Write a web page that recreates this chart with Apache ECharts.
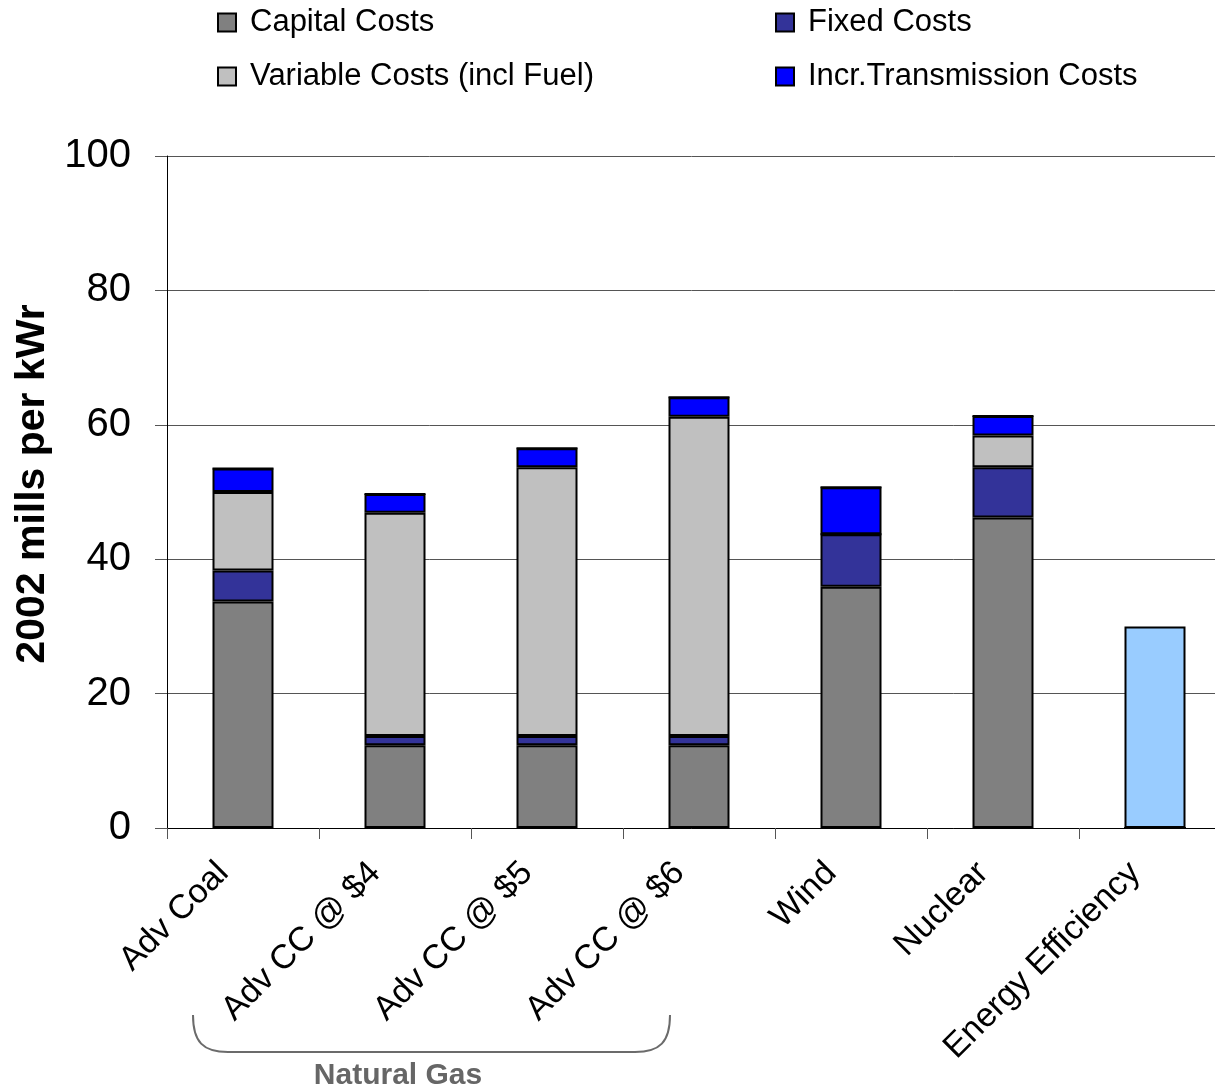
<!DOCTYPE html>
<html>
<head>
<meta charset="utf-8">
<script src="https://cdn.jsdelivr.net/npm/echarts@6/dist/echarts.min.js"></script>
<style>
html,body{margin:0;padding:0;background:#fff;}
#chart{width:1215px;height:1092px;}
</style>
</head>
<body>
<div id="chart"></div>
<script>
var categories = ['Adv Coal', 'Adv CC @ $4', 'Adv CC @ $5', 'Adv CC @ $6', 'Wind', 'Nuclear', 'Energy Efficiency'];
var capitalCosts = [33.7, 12.3, 12.3, 12.3, 35.9, 46.2, 0];
var fixedCosts = [4.6, 1.4, 1.4, 1.4, 7.8, 7.5, 0];
var variableCosts = [11.7, 33.2, 40.0, 47.5, 0, 4.7, 0];
var transmissionCosts = [3.5, 2.8, 2.8, 2.9, 7.0, 2.9, 0];
var efficiencyCosts = [0, 0, 0, 0, 0, 0, 30.0];
var yTicks = [0, 20, 40, 60, 80, 100];

var FONT = 'Liberation Sans, Arial, sans-serif';
var chart = echarts.init(document.getElementById('chart'));

function seg(name, data, color) {
  return {
    name: name, type: 'bar', stack: 'total', data: data,
    barWidth: 61,
    itemStyle: { color: color, borderColor: '#000', borderWidth: 2 },
    emphasis: { disabled: true }
  };
}

var braceStyle = { fill: null, stroke: '#6b6b6b', lineWidth: 2 };

chart.setOption({
  animation: false,
  backgroundColor: '#fff',
  legend: [{
    left: 217, top: 7, orient: 'vertical', padding: 0,
    itemWidth: 18, itemHeight: 18, itemGap: 23, icon: 'rect',
    data: ['Capital Costs', 'Variable Costs (incl Fuel)'],
    textStyle: { fontFamily: FONT, fontSize: 31, color: '#000', lineHeight: 30, padding: [0, 0, 0, 9] }
  }, {
    left: 775, top: 7, orient: 'vertical', padding: 0,
    itemWidth: 18, itemHeight: 18, itemGap: 23, icon: 'rect',
    data: ['Fixed Costs', 'Incr.Transmission Costs'],
    textStyle: { fontFamily: FONT, fontSize: 31, color: '#000', lineHeight: 30, padding: [0, 0, 0, 9] }
  }],
  grid: { left: 167, top: 156, width: 1064, height: 672, containLabel: false, outerBoundsMode: 'none' },
  xAxis: {
    type: 'category', data: categories,
    axisLine: { lineStyle: { color: '#000', width: 1 } },
    axisTick: { show: true, interval: 0, length: 11, lineStyle: { color: '#555' } },
    axisLabel: {
      interval: 0, rotate: 45, margin: 20, color: '#000',
      fontFamily: FONT, fontSize: 34, padding: [0, 28, 0, 0]
    }
  },
  yAxis: {
    type: 'value', min: yTicks[0], max: yTicks[yTicks.length - 1], interval: 20,
    name: '2002 mills per kWr', nameLocation: 'middle', nameGap: 114, nameRotate: 90,
    nameTextStyle: { fontFamily: FONT, fontSize: 41, fontWeight: 'bold', color: '#000', padding: [0, 0, 0, 16] },
    axisLine: { show: true, lineStyle: { color: '#000', width: 1 } },
    axisTick: { show: true, length: 12, lineStyle: { color: '#555' } },
    axisLabel: { margin: 36, color: '#000', fontFamily: FONT, fontSize: 40 },
    splitLine: { show: true, lineStyle: { color: '#555', width: 1 } }
  },
  series: [
    seg('Capital Costs', capitalCosts, '#808080'),
    seg('Fixed Costs', fixedCosts, '#333399'),
    seg('Variable Costs (incl Fuel)', variableCosts, '#C0C0C0'),
    seg('Incr.Transmission Costs', transmissionCosts, '#0000FF'),
    seg('Energy Efficiency', efficiencyCosts, '#99CCFF')
  ],
  graphic: [{
    type: 'bezierCurve',
    shape: { x1: 193, y1: 1015, cpx1: 193, cpy1: 1042, cpx2: 203, cpy2: 1052, x2: 228, y2: 1052 },
    style: braceStyle
  }, {
    type: 'line',
    shape: { x1: 228, y1: 1052, x2: 635, y2: 1052 },
    style: braceStyle
  }, {
    type: 'bezierCurve',
    shape: { x1: 635, y1: 1052, cpx1: 660, cpy1: 1052, cpx2: 670, cpy2: 1042, x2: 670, y2: 1015 },
    style: braceStyle
  }, {
    type: 'text',
    style: { text: 'Natural Gas', x: 398, y: 1076, align: 'center', verticalAlign: 'middle',
      font: 'bold 30px Liberation Sans, Arial, sans-serif', fill: '#666' }
  }]
});
</script>
</body>
</html>
